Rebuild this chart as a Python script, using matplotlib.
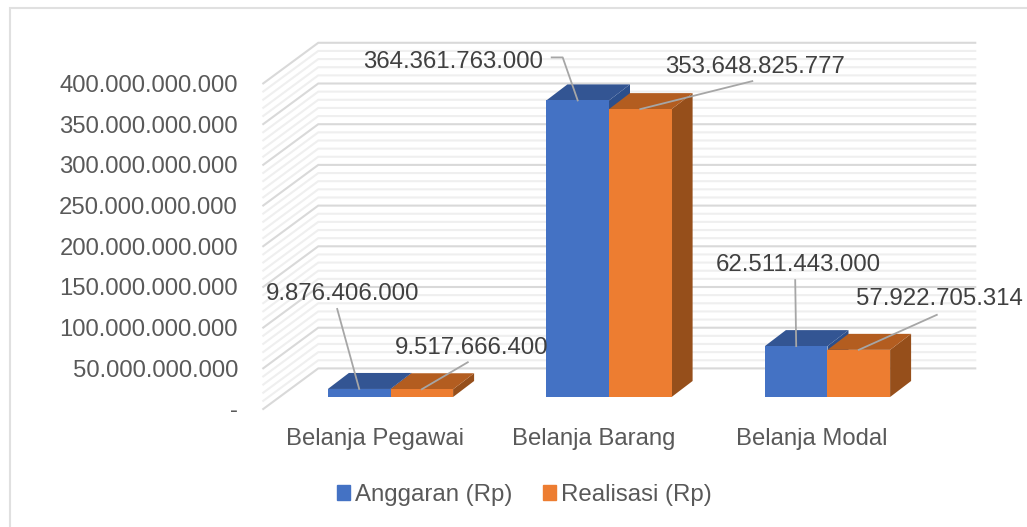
import matplotlib
matplotlib.use("Agg")
import matplotlib.pyplot as plt
from matplotlib.patches import Patch, Polygon
from matplotlib.lines import Line2D
from matplotlib.transforms import IdentityTransform

categories = ["Belanja Pegawai", "Belanja Barang", "Belanja Modal"]
anggaran = [9876406000, 364361763000, 62511443000]
realisasi = [9517666400, 353648825777, 57922705314]
series_names = ["Anggaran (Rp)", "Realisasi (Rp)"]
anggaran_labels = ["9.876.406.000", "364.361.763.000", "62.511.443.000"]
realisasi_labels = ["9.517.666.400", "353.648.825.777", "57.922.705.314"]
major_ticks = [0, 50e9, 100e9, 150e9, 200e9, 250e9, 300e9, 350e9, 400e9]
minor_ticks = [v * 1e9 for v in range(0, 401, 10) if v % 50 != 0]
tick_labels = ["-", "50.000.000.000", "100.000.000.000", "150.000.000.000",
               "200.000.000.000", "250.000.000.000", "300.000.000.000",
               "350.000.000.000", "400.000.000.000"]

W, H = 1027, 527
plt.rcParams["font.family"] = ["Liberation Sans", "DejaVu Sans"]
fig = plt.figure(figsize=(W / 100, H / 100), dpi=100, facecolor="white")

# axes = the plane of the bars' front faces
L, R, Y0, Y400 = 281.25, 936.75, 397.0, 71.4
ax = fig.add_axes([L / W, 1 - Y0 / H, (R - L) / W, (Y0 - Y400) / H])
ax.set_xlim(-0.5, 2.5)
ax.set_ylim(0, 400e9)
ax.axis("off")
ax.set_zorder(2)

BLUE, BLUE_TOP, BLUE_SIDE = "#4472C4", "#335593", "#2C4F8C"
ORANGE, ORANGE_TOP, ORANGE_SIDE = "#ED7D31", "#B35D20", "#964F1B"
GRID_MAJOR, GRID_MINOR = "#D9D9D9", "#EFEFEF"
TXT, LBL, LEAD = "#595959", "#404040", "#A6A6A6"

WALL_FRONT = (-18.0, -12.0)   # px offset of the side wall's front edge
WALL_BACK = (37.0, 28.6)      # px offset of the back wall
BAR_DEPTH = (21.0, 16.0)      # px depth of a bar
BW = 0.2865

ident = IdentityTransform()


def disp(x, v, off=(0, 0)):
    px, py = ax.transData.transform((x, v))
    return px + off[0], py + off[1]


# walls
for ticks, col, lw in ((minor_ticks, GRID_MINOR, 1.5), (major_ticks, GRID_MAJOR, 1.5)):
    for v in ticks:
        pts = [disp(-0.5, v, WALL_FRONT), disp(-0.5, v, WALL_BACK), disp(2.5, v, WALL_BACK)]
        pts[-1] = (pts[-1][0] + 1.5, pts[-1][1])
        fig.add_artist(Line2D([p[0] for p in pts], [p[1] for p in pts], color=col, lw=lw,
                              transform=ident, zorder=1, solid_joinstyle="miter"))


def bar3d(x, v, front, top, side, z):
    x0, x1 = x, x + BW
    d = BAR_DEPTH
    ax.bar(x0, v, BW, align="edge", color=front, zorder=z + 0.2, linewidth=0)
    sq = [disp(x1, 0), disp(x1, 0, d), disp(x1, v, d), disp(x1, v)]
    tp = [disp(x0, v), disp(x0, v, d), disp(x1, v, d), disp(x1, v)]
    ax.add_patch(Polygon(sq, closed=True, transform=ident, fc=side, ec="none", zorder=z, clip_on=False))
    ax.add_patch(Polygon(tp, closed=True, transform=ident, fc=top, ec="none", zorder=z + 0.1, clip_on=False))


for i in range(len(categories)):
    bar3d(i - BW, anggaran[i], BLUE, BLUE_TOP, BLUE_SIDE, 3)
    bar3d(i, realisasi[i], ORANGE, ORANGE_TOP, ORANGE_SIDE, 4)


def leader(x, v, *offs):
    """polyline starting at a bar's top, offsets in px relative to that point"""
    px, py = disp(x, v)
    xs = [px] + [px + o[0] for o in offs]
    ys = [py] + [py + o[1] for o in offs]
    ax.add_line(Line2D(xs, ys, transform=ident, color=LEAD, lw=1.3, zorder=6, clip_on=False))


def dlabel(x, v, s, off):
    ax.annotate(s, xy=(x, v), xytext=(off[0], off[1] - 3), textcoords="offset pixels",
                ha="center", va="center",
                fontsize=17.3, color=LBL, zorder=7, annotation_clip=False)


# data labels with leader lines (offsets from each bar's top centre)
xa = [i - BW / 2 for i in range(3)]
xr = [i + BW / 2 for i in range(3)]
leader(xa[0], anggaran[0], (-22, 80))
dlabel(xa[0], anggaran[0], anggaran_labels[0], (-17, 98))
leader(xr[0], realisasi[0], (46, 27))
dlabel(xr[0], realisasi[0], realisasi_labels[0], (50, 44))
leader(xa[1], anggaran[1], (-15, 43), (-26, 43))
dlabel(xa[1], anggaran[1], anggaran_labels[1], (-125, 41))
leader(xr[1], realisasi[1], (112, 28))
dlabel(xr[1], realisasi[1], realisasi_labels[1], (115, 45))
leader(xa[2], anggaran[2], (-1, 66))
dlabel(xa[2], anggaran[2], anggaran_labels[2], (2, 84))
leader(xr[2], realisasi[2], (78, 35))
dlabel(xr[2], realisasi[2], realisasi_labels[2], (81, 54))

# y tick labels
for v, s in zip(major_ticks, tick_labels):
    px, py = disp(-0.5, v, WALL_FRONT)
    fig.text(238, py - 2.5, s, transform=ident, ha="right", va="center", fontsize=17.2, color=TXT)

# category labels
for i, s in enumerate(categories):
    px, _ = disp(i, 0)
    fig.text(px - 15.5, H - 439, s, transform=ident, ha="center", va="center", fontsize=17.2, color=TXT)

# legend
handles = [Patch(color=BLUE, label=series_names[0]), Patch(color=ORANGE, label=series_names[1])]
fig.legend(handles=handles, loc="center", bbox_to_anchor=(524.5 / W, 1 - 495 / H), ncol=2,
           frameon=False, fontsize=17.3, labelcolor=TXT, handlelength=0.55, handleheight=0.55,
           handletextpad=0.22, columnspacing=1.25, borderpad=0, borderaxespad=0)

# chart frame: only the top and left edges are inside the picture
fig.add_artist(Line2D([10, 10, W], [0, H - 8, H - 8], transform=ident, color="#E0E0E0", lw=1.5,
                      zorder=0, solid_joinstyle="miter"))

fig.savefig("out.png", dpi=100, facecolor="white")
